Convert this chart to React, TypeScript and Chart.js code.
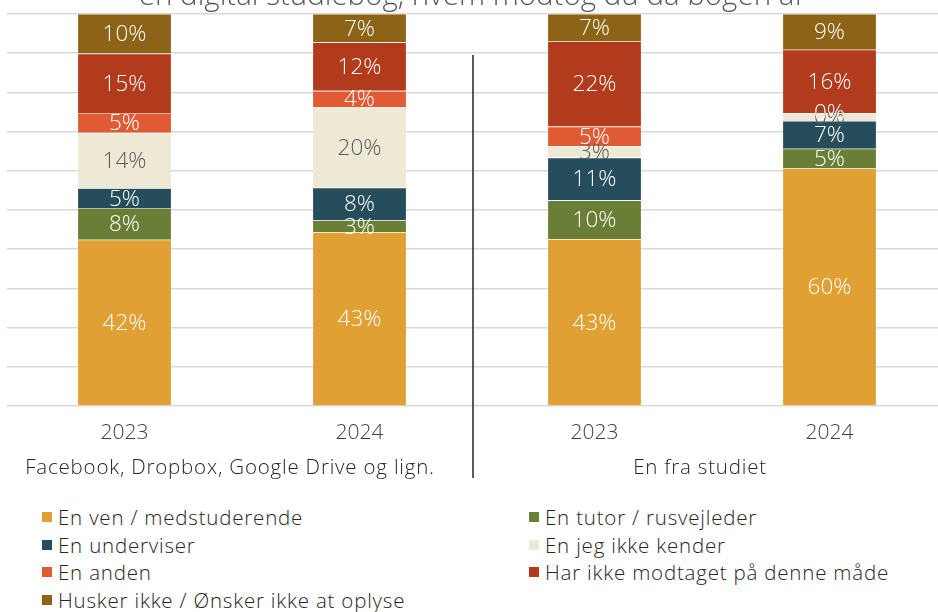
import React, { useEffect, useRef } from "react";
import { Chart, registerables } from "chart.js";

Chart.register(...registerables);

const years = ["2023", "2024", "2023", "2024"];
const groupNames = ["Facebook, Dropbox, Google Drive og lign.", "En fra studiet"];
const titleText = "en digital studiebog, hvem modtog du da bogen af";

const seriesNames = [
  "En ven / medstuderende",
  "En tutor / rusvejleder",
  "En underviser",
  "En jeg ikke kender",
  "En anden",
  "Har ikke modtaget på denne måde",
  "Husker ikke / Ønsker ikke at oplyse",
];
const seriesColors = ["#E0A033", "#6A7E36", "#264D5C", "#EDE9D4", "#E05A33", "#B23B1E", "#8D6417"];

const ven = [42, 43, 43, 60];
const tutor = [8, 3, 10, 5];
const underviser = [5, 8, 11, 7];
const ikkeKender = [14, 20, 3, 2];
const anden = [5, 4, 5, 0];
const harIkke = [15, 12, 22, 16];
const husker = [10, 7, 7, 9];
// label texts as printed in the source chart
const ikkeKenderShown = [14, 20, 3, 0];

const seriesValues = [ven, tutor, underviser, ikkeKender, anden, harIkke, husker];
const FONT = "'Open Sans', Lato, sans-serif";

export default function App() {
  const ref = useRef<HTMLCanvasElement>(null);

  useEffect(() => {
    const canvas = ref.current;
    if (!canvas) return;
    const totals = years.map((_, i) => seriesValues.reduce((s, arr) => s + arr[i], 0));

    const overlay = {
      id: "overlay",
      afterDatasetsDraw(chart: any) {
        const ctx = chart.ctx;
        ctx.save();
        ctx.textAlign = "center";
        ctx.textBaseline = "middle";
        ctx.font = `300 22.5px ${FONT}`;
        chart.data.datasets.forEach((ds: any, di: number) => {
          const meta = chart.getDatasetMeta(di);
          meta.data.forEach((el: any, i: number) => {
            const raw = di === 3 ? ikkeKenderShown[i] : seriesValues[di][i];
            if (di === 4 && raw === 0 && i !== 3) return;
            const y = (el.y + el.base) / 2;
            ctx.fillStyle = di === 3 ? "#5A5A5A" : "#FFFFFF";
            ctx.fillText(raw + "%", el.x, y + 1);
          });
        });
        ctx.restore();
      },
      afterDraw(chart: any) {
        const ctx = chart.ctx;
        const xs = chart.scales.x;
        ctx.save();
        // title (cut off at top)
        ctx.fillStyle = "#595959";
        ctx.font = `300 29.5px ${FONT}`;
        ctx.textAlign = "center";
        ctx.textBaseline = "alphabetic";
        ctx.fillText(titleText, 471, 5);
        // separator
        const sepX = (xs.getPixelForValue(1) + xs.getPixelForValue(2)) / 2 - 4;
        ctx.strokeStyle = "#262626";
        ctx.lineWidth = 1.5;
        ctx.beginPath();
        ctx.moveTo(sepX, 55);
        ctx.lineTo(sepX, 478);
        ctx.stroke();
        // group labels
        ctx.fillStyle = "#262626";
        ctx.font = `300 20.5px ${FONT}`;
        (ctx as any).letterSpacing = "0.8px";
        ctx.textBaseline = "middle";
        groupNames.forEach((g, gi) => {
          const cx = (xs.getPixelForValue(gi * 2) + xs.getPixelForValue(gi * 2 + 1)) / 2 - 12;
          ctx.fillText(g, cx, 468);
        });
        (ctx as any).letterSpacing = "0px";
        ctx.restore();
      },
    };

    const chart = new Chart(canvas, {
      type: "bar",
      data: {
        labels: years,
        datasets: seriesNames.map((name, si) => ({
          label: name,
          data: seriesValues[si].map((v, i) => (v / totals[i]) * 100),
          backgroundColor: seriesColors[si],
          borderColor: "rgba(255,255,255,0.35)",
          borderWidth: 0.6,
          barPercentage: 0.4,
          categoryPercentage: 1,
        })),
      },
      options: {
        responsive: false,
        animation: false,
        devicePixelRatio: 1,
        layout: { padding: { left: 7, right: 0, top: 14, bottom: 0 } },
        plugins: { legend: { display: false }, tooltip: { enabled: false }, title: { display: false } },
        scales: {
          x: {
            stacked: true,
            grid: { display: false, drawTicks: false },
            border: { display: false },
            ticks: { color: "#404040", font: { family: FONT, size: 21, weight: "300" as any }, padding: 14 },
            afterFit: (s: any) => {
              s.height = 84;
            },
          },
          y: {
            stacked: true,
            min: 0,
            max: 100,
            ticks: { display: false, stepSize: 10 },
            grid: { color: "#D9D9D9", lineWidth: 1.5, drawTicks: false },
            border: { display: false },
            afterFit: (s: any) => {
              s.width = 0;
            },
          },
        },
      },
      plugins: [overlay],
    });
    return () => chart.destroy();
  }, []);

  const legendStyle: React.CSSProperties = {
    position: "absolute",
    display: "flex",
    alignItems: "center",
    fontFamily: FONT,
    fontWeight: 300,
    fontSize: 20.5,
    letterSpacing: "0.8px",
    color: "#262626",
    whiteSpace: "nowrap",
    height: 24,
  };

  return (
    <div style={{ position: "fixed", left: 0, top: 0, width: 938, height: 612, overflow: "hidden", background: "#fff" }}>
      <canvas ref={ref} width={947} height={490} style={{ position: "absolute", left: 0, top: 0 }} />
      {seriesNames.map((name, i) => {
        const col = i % 2;
        const row = Math.floor(i / 2);
        return (
          <div key={name} style={{ ...legendStyle, left: col === 0 ? 42 : 529, top: 517 + row * 27.6 - 12 }}>
            <span style={{ width: 10, height: 10, background: seriesColors[i], display: "inline-block", marginRight: 6 }} />
            <span>{name}</span>
          </div>
        );
      })}
    </div>
  );
}
